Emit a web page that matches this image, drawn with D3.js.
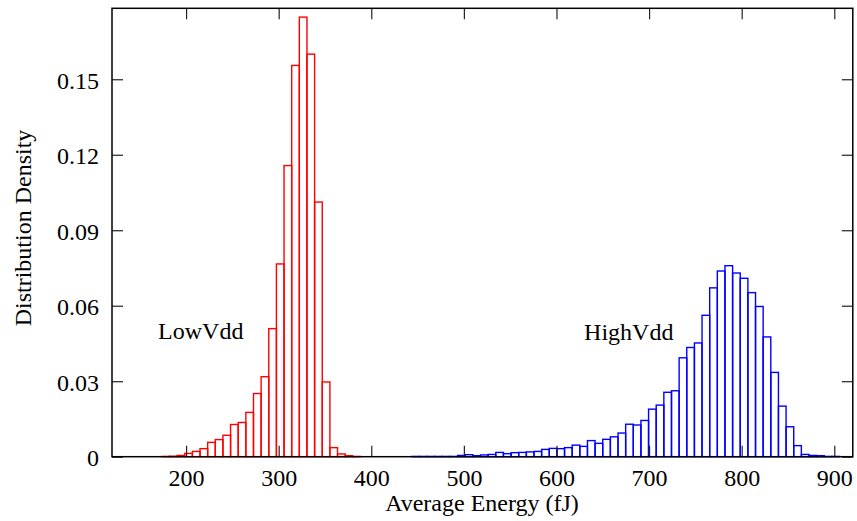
<!DOCTYPE html>
<html>
<head>
<meta charset="utf-8">
<script src="https://cdn.jsdelivr.net/npm/d3@7"></script>
<style>
  body { margin: 0; background: #fff; }
  text { font-family: "Liberation Serif", "Times New Roman", serif; }
</style>
</head>
<body>
<div id="chart"></div>
<script>
// histogram densities, one value per bin
const lowVdd = [0.0001, 0.0002, 0.0005, 0.0013, 0.0021, 0.0032, 0.0057, 0.0068, 0.0085,
    0.0128, 0.0136, 0.0176, 0.0251, 0.0318, 0.0509, 0.0766, 0.1157, 0.1555, 0.1747,
    0.160, 0.1012, 0.0297, 0.0036, 0.0011, 0.0004, 0.0001];
const highVdd = [0.0001, 0.0001, 0.0001, 0.0001, 0.0001, 0.0001, 0.0005, 0.0008, 0.0004,
    0.0007, 0.0009, 0.0017, 0.0012, 0.0016, 0.0017, 0.0019, 0.0021, 0.0029, 0.0033,
    0.0032, 0.0036, 0.0046, 0.0041, 0.0064, 0.0053, 0.0069, 0.0079, 0.0094, 0.0129,
    0.0126, 0.0144, 0.0189, 0.0205, 0.0256, 0.0262, 0.0393, 0.0434, 0.0452, 0.0562,
    0.0671, 0.0738, 0.0759, 0.0730, 0.0709, 0.0652, 0.0597, 0.0476, 0.0335, 0.0201,
    0.0119, 0.0044, 0.0009, 0.0005, 0.0004, 0.0001, 0.0001];
const lowStart = 173.8;   // left edge of first bin (fJ)
const highStart = 443.7;
const binWidth = 8.25;

const xTicks = [200, 300, 400, 500, 600, 700, 800, 900];
const yTicks = [0, 0.03, 0.06, 0.09, 0.12, 0.15];

const width = 857, height = 521;
const margin = {top: 8.3, right: 4.2, bottom: 64.3, left: 112};
const innerW = width - margin.left - margin.right;
const innerH = height - margin.top - margin.bottom;

const svg = d3.select('#chart')
    .append('svg')
    .attr('width', width)
    .attr('height', height);

const g = svg.append('g')
    .attr('transform', `translate(${margin.left},${margin.top})`);

const x = d3.scaleLinear().domain([120, 920]).range([0, innerW]);
const y = d3.scaleLinear().domain([0, 0.1782]).range([innerH, 0]);

function drawHist(values, start, color) {
    g.append('g')
        .selectAll('rect')
        .data(values)
        .join('rect')
        .attr('x', (_d, i) => x(start + i * binWidth))
        .attr('y', (d) => y(d))
        .attr('width', x(start + binWidth) - x(start))
        .attr('height', (d) => y(0) - y(d))
        .attr('fill', 'none')
        .attr('stroke', color)
        .attr('stroke-width', 1.4);
}

drawHist(lowVdd, lowStart, '#ff0000');
drawHist(highVdd, highStart, '#0000ff');

const tick = 11;
const fmt = (d) => d === 0 ? '0' : d3.format('.2f')(d);

const axisB = g.append('g')
    .attr('transform', `translate(0,${innerH})`)
    .call(d3.axisBottom(x).tickValues(xTicks).tickSize(-tick).tickPadding(12));
const axisT = g.append('g')
    .call(d3.axisTop(x).tickValues(xTicks).tickSize(-tick).tickFormat(''));
const axisL = g.append('g')
    .call(d3.axisLeft(y).tickValues(yTicks).tickSize(-tick).tickPadding(13).tickFormat(fmt));
const axisR = g.append('g')
    .attr('transform', `translate(${innerW},0)`)
    .call(d3.axisRight(y).tickValues(yTicks).tickSize(-tick).tickFormat(''));

[axisB, axisT, axisL, axisR].forEach((a) => {
    a.select('.domain').remove();
    a.selectAll('line').attr('stroke', '#222').attr('stroke-width', 1.2);
    a.selectAll('text')
        .attr('font-size', 24)
        .attr('fill', '#000')
        .style('font-family', '"Liberation Serif", serif');
});
axisL.selectAll('text').attr('dy', '0.37em');

g.append('rect')
    .attr('width', innerW)
    .attr('height', innerH)
    .attr('fill', 'none')
    .attr('stroke', '#000')
    .attr('stroke-width', 1.5);

// axis titles
svg.append('text')
    .attr('x', 482)
    .attr('y', 511)
    .attr('text-anchor', 'middle')
    .attr('font-size', 24)
    .text('Average Energy (fJ)');

svg.append('text')
    .attr('transform', 'translate(31,228) rotate(-90)')
    .attr('text-anchor', 'middle')
    .attr('font-size', 24)
    .text('Distribution Density');

// series labels
g.append('text')
    .attr('x', x(169.8))
    .attr('y', y(0.0466))
    .attr('font-size', 24)
    .text('LowVdd');

g.append('text')
    .attr('x', x(629.8))
    .attr('y', y(0.0464))
    .attr('font-size', 24)
    .text('HighVdd');
</script>
</body>
</html>
